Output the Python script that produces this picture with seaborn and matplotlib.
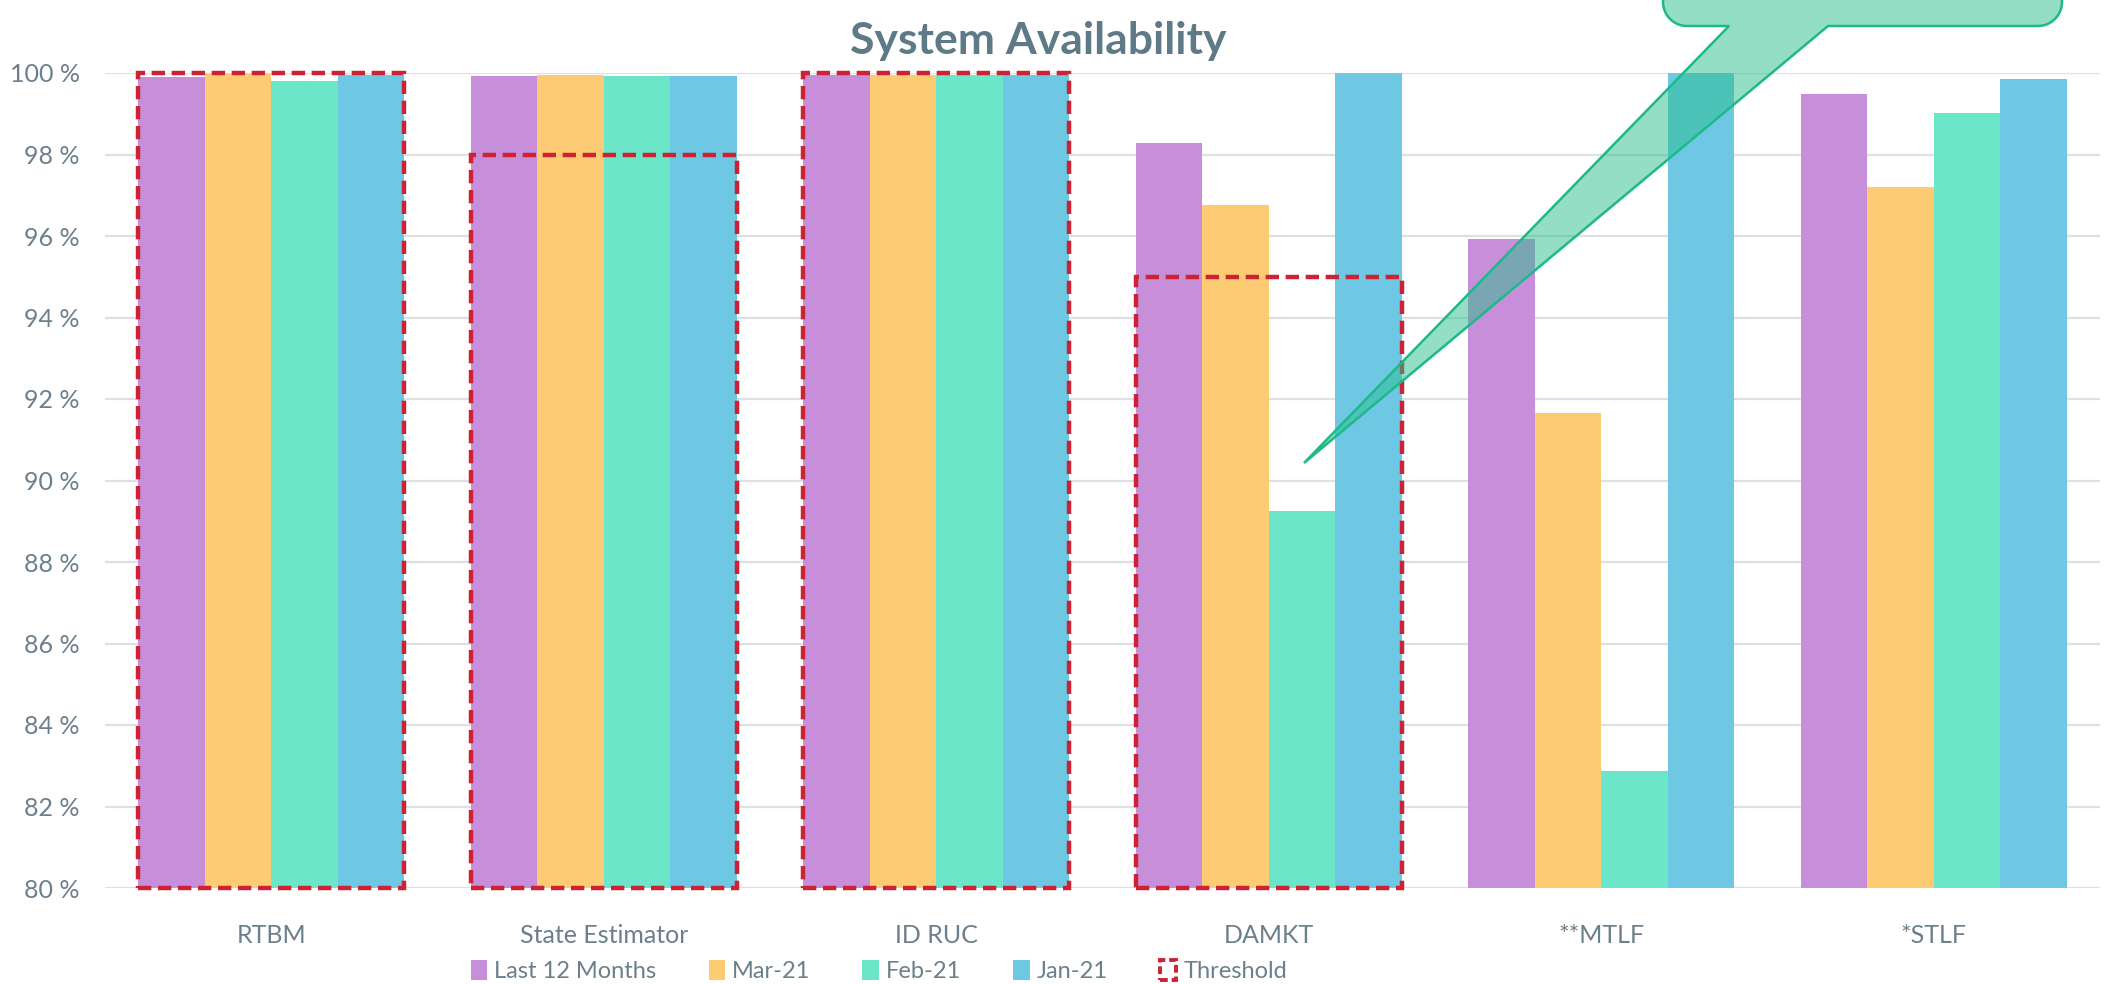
import numpy as np
import pandas as pd
import matplotlib
matplotlib.use('Agg')
import matplotlib.pyplot as plt
from matplotlib.patches import Patch, Rectangle, Polygon
import seaborn as sns

# --- DATA ---
categories = ['RTBM', 'State Estimator', 'ID RUC', 'DAMKT', '**MTLF', '*STLF']
series = ['Last 12 Months', 'Mar-21', 'Feb-21', 'Jan-21']
last_12 = [99.90, 99.93, 99.95, 98.28, 95.93, 99.48]
mar_21 = [99.97, 99.95, 99.96, 96.76, 91.65, 97.21]
feb_21 = [99.80, 99.93, 99.95, 89.26, 82.87, 99.03]
jan_21 = [99.95, 99.93, 99.96, 100.0, 100.0, 99.86]
thresholds = [100, 98, 100, 95, None, None]
yticks = list(range(80, 101, 2))

colors = ['#C78FD9', '#FDCB74', '#6BE6C8', '#6EC8E3']
TEXT = '#6B808C'
RED = '#CC2233'

df = pd.DataFrame({
    'System': categories * 4,
    'Series': np.repeat(series, len(categories)),
    'Value': last_12 + mar_21 + feb_21 + jan_21,
})

sns.set_theme(style='white')
plt.rcParams['font.family'] = ['Lato', 'DejaVu Sans']

W, H = 2113, 984
fig = plt.figure(figsize=(W / 100, H / 100), dpi=100)
ax = fig.add_axes([105 / W, 1 - 888 / H, 1995 / W, 815 / H])

sns.barplot(data=df, x='System', y='Value', hue='Series', palette=colors,
            width=0.8, saturation=1, ax=ax, legend=False, linewidth=0)

ax.set_ylim(80, 100)
ax.set_yticks(yticks)
ax.set_yticklabels([f'{t} %' for t in yticks])
ax.grid(axis='y', color='#DDE1E5', linewidth=1.6)
ax.set_axisbelow(True)
for s in ax.spines.values():
    s.set_visible(False)
ax.set_xlabel('')
ax.set_ylabel('')
ax.tick_params(axis='x', colors=TEXT, labelsize=18, pad=26, length=0)
ax.tick_params(axis='y', colors=TEXT, labelsize=18, pad=18, length=0)

# threshold boxes
for i, thr in enumerate(thresholds):
    if thr is None:
        continue
    ax.add_patch(Rectangle((i - 0.4, 80), 0.8, thr - 80, fill=False,
                           edgecolor=RED, linewidth=3.2, linestyle=(0, (3, 1.5)),
                           clip_on=False, zorder=5))

ax.set_title('System Availability', fontsize=32, fontweight='bold',
             color='#5F7A87', x=0.468, y=1.0, pad=14)

# callout bubble (pixel geometry, top-left origin)
def arc(cx, cy, r, a0, a1):
    t = np.radians(np.linspace(a0, a1, 12))
    return [(cx + r * np.cos(t_), cy + r * np.sin(t_)) for t_ in t]

r = 24
pts = [(1663, -80)]
pts += arc(1663 + r, 26 - r, r, 180, 90)
pts += [(1729, 26), (1304, 463), (1828, 26)]
pts += arc(2062 - r, 26 - r, r, 90, 0)
pts += [(2062, -80)]
pts = [(x / W, 1 - y / H) for x, y in pts]
fig.patches.append(Polygon(pts, closed=True, transform=fig.transFigure,
                           facecolor='#2BBF8E', alpha=0.5, edgecolor='none',
                           zorder=10))
fig.patches.append(Polygon(pts, closed=True, transform=fig.transFigure,
                           facecolor='none', edgecolor='#1DB98A', linewidth=1.8,
                           zorder=11))

# legend
handles = [Patch(facecolor=c, edgecolor='none') for c in colors]
handles.append(Rectangle((0, 0), 1, 1, fill=False, edgecolor=RED, linewidth=2.8,
                         linestyle=(0, (2, 1))))
fig.legend(handles, series + ['Threshold'], loc='center',
           bbox_to_anchor=(879 / W, 1 - 971 / H), ncol=5, frameon=False,
           fontsize=17, labelcolor=TEXT, handlelength=0.7, handleheight=0.9,
           handletextpad=0.3, columnspacing=2.2)

plt.savefig('out.png', dpi=100)
